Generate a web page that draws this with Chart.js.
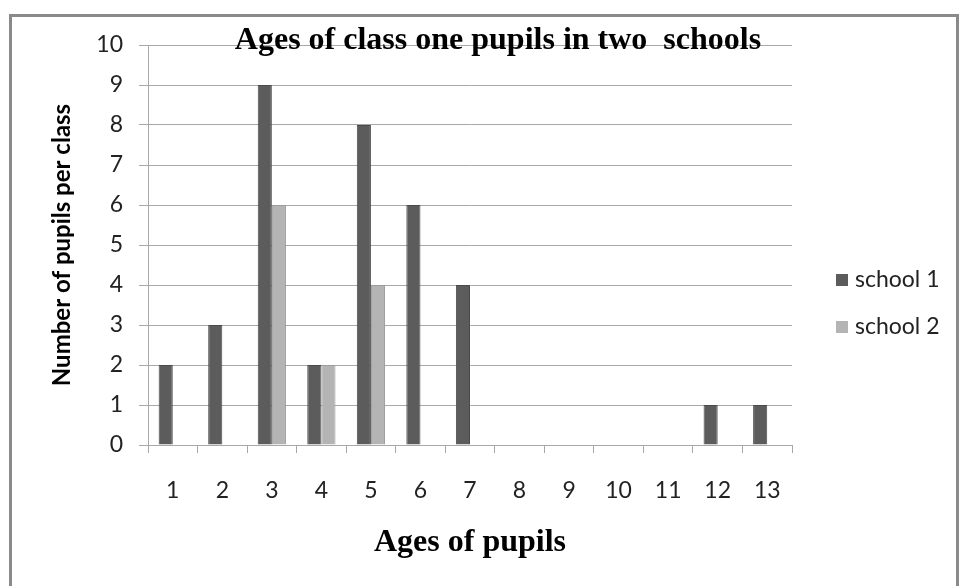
<!DOCTYPE html>
<html>
<head>
<meta charset="utf-8">
<script src="https://cdn.jsdelivr.net/npm/chart.js@4/dist/chart.umd.min.js"></script>
<style>
  html, body { margin: 0; padding: 0; background: #fff; }
  #wrap { position: relative; width: 959px; height: 586px; overflow: hidden; }
  #frame { position: absolute; left: 9px; top: 14px; width: 944px; height: 620px;
           border: 3px solid #8a8a8a; pointer-events: none; }
  canvas { position: absolute; left: 0; top: 0; }
</style>
</head>
<body>
<div id="wrap">
  <canvas id="ages-chart" width="959" height="586"></canvas>
  <div id="frame"></div>
</div>
<script>
// data
const ages = ['1', '2', '3', '4', '5', '6', '7', '8', '9', '10', '11', '12', '13'];
const school1 = [2, 3, 9, 2, 8, 6, 4, 0, 0, 0, 0, 1, 1];
const school2 = [0, 0, 6, 2, 4, 0, 0, 0, 0, 0, 0, 0, 0];
const seriesNames = ['school 1', 'school 2'];
const chartTitle = 'Ages of class one pupils in two  schools';

const tickFont = { family: 'Lato', size: 23 };
const gridGrey = '#a8a8a8';

// title sits over the top of the plot, and the legend off to the right
const extras = {
    id: 'extras',
    afterDraw(chart) {
        const c = chart.ctx;
        const area = chart.chartArea;
        c.save();
        c.fillStyle = '#000';
        c.font = 'bold 32px "Liberation Serif"';
        c.textAlign = 'center';
        c.textBaseline = 'middle';
        c.fillText(chartTitle, (area.left + area.right) / 2 + 28, area.top - 4);

        c.font = '23px Lato';
        c.textAlign = 'left';
        chart.data.datasets.forEach((ds, i) => {
            const y = area.top + 235 + i * 47;
            c.fillStyle = ds.backgroundColor;
            c.fillRect(area.right + 44, y - 6, 12, 12);
            c.fillStyle = '#222';
            c.fillText(ds.label, area.right + 63, y);
        });
        c.restore();
    }
};

var ctx = document.getElementById('ages-chart');

new Chart(ctx, {
    type: 'bar',
    data: {
        labels: ages,
        datasets: [{
            label: seriesNames[0],
            data: school1,
            backgroundColor: '#5c5c5c',
            borderColor: '#4a4a4a',
            borderWidth: 1
        },
        {
            label: seriesNames[1],
            data: school2,
            backgroundColor: '#b4b4b4',
            borderColor: '#9c9c9c',
            borderWidth: 1
        }]
    },
    options: {
        responsive: false,
        animation: false,
        layout: { padding: { left: 0, top: 45, right: 167, bottom: 0 } },
        plugins: {
            legend: { display: false },
            title: { display: false },
            tooltip: { enabled: false }
        },
        datasets: {
            bar: { categoryPercentage: 0.57, barPercentage: 1 }
        },
        scales: {
            x: {
                grid: { offset: true, drawOnChartArea: false, drawTicks: true, tickLength: 8, color: gridGrey },
                border: { color: gridGrey },
                ticks: { font: tickFont, color: '#222', padding: 24, maxRotation: 0 },
                title: {
                    display: true,
                    text: 'Ages of pupils',
                    font: { family: 'Liberation Serif', size: 32, weight: 'bold' },
                    color: '#000',
                    padding: { top: 0, bottom: 24 }
                },
                afterFit(scale) { scale.height = 586 - 445; }
            },
            y: {
                min: 0,
                max: 10,
                grid: { color: gridGrey, tickLength: 9 },
                border: { color: gridGrey },
                ticks: { stepSize: 1, font: tickFont, color: '#222', padding: 16 },
                title: {
                    display: true,
                    text: 'Number of pupils per class',
                    font: { family: 'Lato', size: 24, weight: 'bold' },
                    color: '#000',
                    padding: { top: 48, bottom: 0 }
                },
                afterFit(scale) { scale.width = 148; }
            }
        }
    },
    plugins: [extras]
});
</script>
</body>
</html>
